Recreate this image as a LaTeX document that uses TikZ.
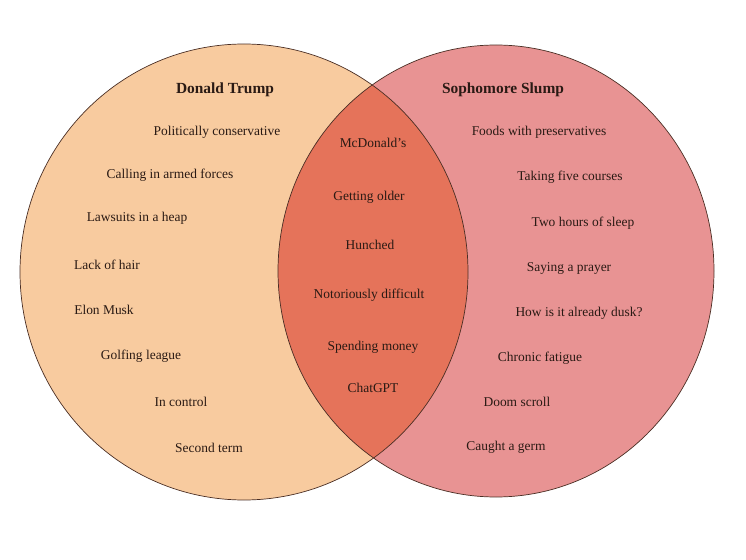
\documentclass[tikz,border=0pt]{standalone}
\usepackage{fontspec}
\setmainfont{Liberation Serif}
\usepackage{tikz}

\definecolor{trumpfill}{HTML}{F8CB9F}
\definecolor{slumpfill}{HTML}{E89393}
\definecolor{bothfill}{HTML}{E5735A}
\definecolor{rimline}{HTML}{4A2E24}
\definecolor{inktext}{HTML}{2A1A14}

\begin{document}
\begin{tikzpicture}[x=1bp, y=-1bp, font=\fontsize{13.5}{15}\selectfont, text=inktext,
    item/.style={inner sep=1pt},
    head/.style={inner sep=1pt, font=\fontsize{15.5}{17}\selectfont\bfseries}]
    \useasboundingbox (0,0) rectangle (746,560);

    % the two sets
    \fill[trumpfill] (244,272) ellipse [x radius=224, y radius=228];
    \fill[slumpfill] (496,271) ellipse [x radius=218, y radius=226];
    \begin{scope}
        \clip (244,272) ellipse [x radius=224, y radius=228];
        \fill[bothfill] (496,271) ellipse [x radius=218, y radius=226];
    \end{scope}
    \draw[rimline, line width=0.7bp] (244,272) ellipse [x radius=224, y radius=228];
    \draw[rimline, line width=0.7bp] (496,271) ellipse [x radius=218, y radius=226];

    % headings
    \node[head] (trump) at (225,90) {Donald Trump};
    \node[head] (slump) at (503,90) {Sophomore Slump};

    % Donald Trump only
    \node[item] (conserv) at (217,132) {Politically conservative};
    \node[item] (forces)  at (170,175) {Calling in armed forces};
    \node[item] (lawsuit) at (137,218) {Lawsuits in a heap};
    \node[item] (hair)    at (107,265) {Lack of hair};
    \node[item] (musk)    at (104,310) {Elon Musk};
    \node[item] (golf)    at (141,356) {Golfing league};
    \node[item] (control) at (181,402) {In control};
    \node[item] (term)    at (209,448) {Second term};

    % both
    \node[item] (mcd)     at (373,143) {McDonald’s};
    \node[item] (older)   at (369,197) {Getting older};
    \node[item] (hunch)   at (370,245) {Hunched};
    \node[item] (notor)   at (369,295) {Notoriously difficult};
    \node[item] (spend)   at (373,347) {Spending money};
    \node[item] (gpt)     at (373,388) {ChatGPT};

    % Sophomore Slump only
    \node[item] (foods)   at (539,132) {Foods with preservatives};
    \node[item] (courses) at (570,177) {Taking five courses};
    \node[item] (sleep)   at (583,223) {Two hours of sleep};
    \node[item] (prayer)  at (569,268) {Saying a prayer};
    \node[item] (dusk)    at (579,313) {How is it already dusk?};
    \node[item] (fatigue) at (540,358) {Chronic fatigue};
    \node[item] (doom)    at (517,402) {Doom scroll};
    \node[item] (germ)    at (506,447) {Caught a germ};
\end{tikzpicture}
\end{document}
